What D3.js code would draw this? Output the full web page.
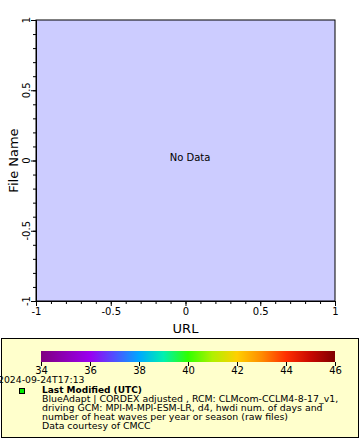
<!DOCTYPE html>
<html><head><meta charset="utf-8">
<script src="https://cdn.jsdelivr.net/npm/d3@7"></script>
<style>body{margin:0;background:#fff}svg{display:block;font-family:"DejaVu Sans",sans-serif}</style>
</head><body><svg id="c" width="360" height="440"></svg>
<script>
const xDomain = [-1, 1];
const yDomain = [-1, 1];
const xTicks = [-1, -0.5, 0, 0.5, 1];
const yTicks = [-1, -0.5, 0, 0.5, 1];
const xLabel = "URL";
const yLabel = "File Name";
const noDataText = "No Data";
const cbTicks = [34, 36, 38, 40, 42, 44, 46];
const cbStopValues = [34, 36, 37, 38, 39, 40, 41, 42, 43, 44, 45, 46];
const cbStopColors = ["#800080", "#9a00f0", "#5050ff", "#00a8ff", "#00f0b0", "#30ff00", "#b0f000", "#ffd000", "#ff8c00", "#ff3000", "#c80800", "#800000"];
const timestamp = "2024-09-24T17:13";
const legendTitle = "Last Modified (UTC)";
const legendLines = [
  "BlueAdapt | CORDEX adjusted , RCM: CLMcom-CCLM4-8-17_v1,",
  "driving GCM: MPI-M-MPI-ESM-LR, d4, hwdi num. of days and",
  "number of heat waves per year or season (raw files)",
  "Data courtesy of CMCC"
];

const fmt = v => String(v);
const svg = d3.select("#c");
const L = 36, R = 335, T = 20, B = 301;
const x = d3.scaleLinear().domain(xDomain).range([L, R]);
const y = d3.scaleLinear().domain(yDomain).range([B, T]);

svg.append("rect").attr("x", L).attr("y", T).attr("width", R - L).attr("height", B - T)
  .attr("fill", "#ccccff").attr("stroke", "#000").attr("stroke-width", 1);

const minorX = d3.range(-1, 1.0001, 0.1);
// x axis
const gx = svg.append("g").attr("transform", `translate(0,${B})`);
gx.call(d3.axisBottom(x).tickValues(minorX).tickSize(3).tickFormat(""));
gx.call(g => g.select(".domain").remove());
const gx2 = svg.append("g").attr("transform", `translate(0,${B})`);
gx2.call(d3.axisBottom(x).tickValues(xTicks).tickSize(5).tickPadding(2).tickFormat(fmt));
gx2.select(".domain").attr("stroke", "#000");
gx2.selectAll("text").attr("font-size", 10).attr("fill", "#000").attr("font-family", "DejaVu Sans");
gx.selectAll("line").attr("stroke", "#000");
gx2.selectAll("line").attr("stroke", "#000");

// y axis
const gy = svg.append("g").attr("transform", `translate(${L},0)`);
gy.call(d3.axisLeft(y).tickValues(minorX).tickSize(3).tickFormat(""));
gy.call(g => g.select(".domain").remove());
const gy2 = svg.append("g").attr("transform", `translate(${L},0)`);
gy2.call(d3.axisLeft(y).tickValues(yTicks).tickSize(5).tickFormat(""));
gy2.selectAll("line").attr("stroke", "#000");
gy.selectAll("line").attr("stroke", "#000");
yTicks.forEach(v => {
  svg.append("text").attr("transform", `translate(${L - 6},${y(v)}) rotate(-90)`)
    .attr("text-anchor", "middle").attr("font-size", 10).attr("fill", "#000").text(fmt(v));
});

svg.append("text").attr("x", (L + R) / 2).attr("y", 333).attr("text-anchor", "middle")
  .attr("font-size", 13).attr("fill", "#000").text(xLabel);
svg.append("text").attr("transform", `translate(17.5,${(T + B) / 2}) rotate(-90)`).attr("text-anchor", "middle")
  .attr("font-size", 13).attr("fill", "#000").text(yLabel);

svg.append("text").attr("x", 190).attr("y", 161).attr("text-anchor", "middle")
  .attr("font-size", 10).attr("fill", "#000").text(noDataText);

// legend box
svg.append("rect").attr("x", 1.5).attr("y", 338.5).attr("width", 357).attr("height", 99)
  .attr("fill", "#ffffcc").attr("stroke", "#000").attr("stroke-width", 1);

const cb = d3.scaleLinear().domain([34, 46]).range([41, 335]);
const grad = svg.append("defs").append("linearGradient").attr("id", "cbg");
cbStopValues.forEach((v, i) => {
  grad.append("stop").attr("offset", (v - 34) / 12).attr("stop-color", cbStopColors[i]);
});
svg.append("rect").attr("x", cb(34)).attr("y", 351).attr("width", cb(46) - cb(34)).attr("height", 11)
  .attr("fill", "url(#cbg)");
const gc = svg.append("g").attr("transform", "translate(0,362)");
gc.call(d3.axisBottom(cb).tickValues(cbTicks).tickSize(4).tickPadding(1).tickFormat(d3.format("d")));
gc.select(".domain").remove();
gc.selectAll("line").attr("stroke", "#000");
gc.selectAll("text").attr("font-size", 10).attr("fill", "#000").attr("font-family", "DejaVu Sans");

svg.append("text").attr("x", -2).attr("y", 383).attr("font-size", 9.3).attr("fill", "#000").text(timestamp);
svg.append("rect").attr("x", 19.5).attr("y", 388.5).attr("width", 5).attr("height", 5)
  .attr("fill", "#00ee00").attr("stroke", "#000").attr("stroke-width", 1);
svg.append("text").attr("x", 42).attr("y", 393).attr("font-size", 9).attr("font-weight", "bold")
  .attr("fill", "#000").text(legendTitle);
legendLines.forEach((t, i) => {
  svg.append("text").attr("x", 42).attr("y", 402 + i * 9).attr("font-size", 9.4).attr("fill", "#000").text(t);
});
</script></body></html>
